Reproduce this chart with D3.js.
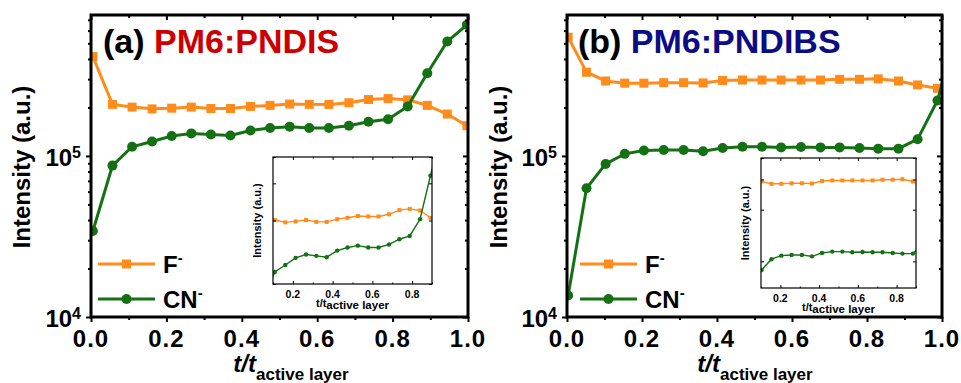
<!DOCTYPE html>
<html>
<head>
<meta charset="utf-8">
<script src="https://cdn.jsdelivr.net/npm/d3@7"></script>
<style>
  body { margin: 0; background: #fff; }
  text { font-family: "Liberation Sans", Arial, sans-serif; font-weight: bold; }
</style>
</head>
<body>
<div id="chart"></div>
<script>
// depth positions (t / t_active layer) and intensities
const tLeft  = [0.005, 0.057, 0.109, 0.162, 0.214, 0.266, 0.318, 0.370, 0.423, 0.475,
                0.527, 0.579, 0.631, 0.684, 0.736, 0.788, 0.840, 0.892, 0.945, 0.997];
const fLeft  = [4.14e5, 2.09e5, 2.01e5, 1.96e5, 1.98e5, 2.01e5, 1.97e5, 1.97e5, 2.03e5, 2.06e5,
                2.10e5, 2.09e5, 2.09e5, 2.14e5, 2.24e5, 2.27e5, 2.23e5, 2.06e5, 1.82e5, 1.54e5];
const cnLeft = [3.42e4, 8.71e4, 1.14e5, 1.23e5, 1.33e5, 1.38e5, 1.36e5, 1.34e5, 1.44e5, 1.49e5,
                1.52e5, 1.49e5, 1.49e5, 1.54e5, 1.63e5, 1.69e5, 2.03e5, 3.26e5, 5.13e5, 6.51e5];

const tRight  = [0.003, 0.052, 0.103, 0.154, 0.205, 0.258, 0.311, 0.363, 0.415, 0.468,
                 0.520, 0.571, 0.624, 0.676, 0.727, 0.780, 0.830, 0.884, 0.935, 0.988, 1.040];
const fRight  = [5.46e5, 3.31e5, 2.92e5, 2.83e5, 2.83e5, 2.85e5, 2.85e5, 2.84e5, 2.94e5, 2.96e5,
                 2.96e5, 2.96e5, 2.96e5, 2.96e5, 2.99e5, 2.99e5, 3.01e5, 2.92e5, 2.76e5, 2.63e5];
const cnRight = [1.36e4, 6.30e4, 8.92e4, 1.03e5, 1.08e5, 1.09e5, 1.09e5, 1.07e5, 1.12e5, 1.14e5,
                 1.14e5, 1.13e5, 1.135e5, 1.13e5, 1.13e5, 1.12e5, 1.11e5, 1.11e5, 1.27e5, 2.21e5, 6.0e5];

const xMajor = [0, 0.2, 0.4, 0.6, 0.8, 1.0];
const xMinor = [0.1, 0.3, 0.5, 0.7, 0.9];
const yMajor = [1e4, 1e5];
const yMinor = [2e4, 3e4, 4e4, 5e4, 6e4, 7e4, 8e4, 9e4, 2e5, 3e5, 4e5, 5e5, 6e5, 7e5];
const insetXMajor = [0.2, 0.4, 0.6, 0.8];
const insetXMinor = [0.1, 0.3, 0.5, 0.7, 0.9];
const insetYTicks = [1e5, 2e5, 3e5, 4e5];
const seriesNames = ["F", "CN"];

const width = 961, height = 383;
const orange = "#ff8c1a", green = "#137013";

const panels = [
  { id: "a", left: 91, right: 468, top: 15, bottom: 317,
    t: tLeft, f: fLeft, cn: cnLeft,
    tag: "(a)", name: "PM6:PNDIS", nameColor: "#cc0000", titleX: 103,
    legendX: 98, xLabelX: 291, yLabelX: 30,
    inset: { left: 273, right: 432, top: 157, bottom: 284, yDomain: [1e5, 4e5] } },
  { id: "b", left: 567, right: 942, top: 15, bottom: 317,
    t: tRight, f: fRight, cn: cnRight,
    tag: "(b)", name: "PM6:PNDIBS", nameColor: "#0c0c84", titleX: 578,
    legendX: 580, xLabelX: 755, yLabelX: 507,
    inset: { left: 761, right: 916, top: 158, bottom: 288, yDomain: [7e4, 4e5] } }
];

const svg = d3.select("#chart").append("svg")
  .attr("width", width).attr("height", height);

function tickGroup(sel, axis, tx, ty, sw) {
  sel.append("g")
    .attr("transform", `translate(${tx},${ty})`)
    .call(axis)
    .call(g => g.select(".domain").remove())
    .selectAll("line").attr("stroke", "#000").attr("stroke-width", sw);
}

function drawSeries(g, x, y, p, lw, sq, r) {
  const line = d3.line().x(d => x(d[0])).y(d => y(d[1]));
  const fData = d3.zip(p.t, p.f), cnData = d3.zip(p.t, p.cn);

  g.append("path").attr("d", line(fData))
    .attr("fill", "none").attr("stroke", orange).attr("stroke-width", lw);
  g.selectAll(".sq").data(fData).enter().append("rect")
    .attr("x", d => x(d[0]) - sq / 2).attr("y", d => y(d[1]) - sq / 2)
    .attr("width", sq).attr("height", sq).attr("fill", orange);

  g.append("path").attr("d", line(cnData))
    .attr("fill", "none").attr("stroke", green).attr("stroke-width", lw);
  g.selectAll(".dot").data(cnData).enter().append("circle")
    .attr("cx", d => x(d[0])).attr("cy", d => y(d[1]))
    .attr("r", r).attr("fill", green);
}

function drawPanel(p) {
  const x = d3.scaleLinear().domain([0, 1]).range([p.left, p.right]);
  const y = d3.scaleLog().domain([1e4, 7.5e5]).range([p.bottom, p.top]);

  svg.append("clipPath").attr("id", "clip-" + p.id)
    .append("rect")
    .attr("x", p.left).attr("y", p.top)
    .attr("width", p.right - p.left).attr("height", p.bottom - p.top);

  const plot = svg.append("g").attr("clip-path", `url(#clip-${p.id})`);
  drawSeries(plot, x, y, p, 3, 9, 5);

  // ticks: out on bottom/left, in on top/right
  tickGroup(svg, d3.axisBottom(x).tickValues(xMajor).tickSize(5).tickFormat(""), 0, p.bottom, 2);
  tickGroup(svg, d3.axisBottom(x).tickValues(xMinor).tickSize(3).tickFormat(""), 0, p.bottom, 2);
  tickGroup(svg, d3.axisTop(x).tickValues(xMajor).tickSize(-5).tickFormat(""), 0, p.top, 2);
  tickGroup(svg, d3.axisTop(x).tickValues(xMinor).tickSize(-3).tickFormat(""), 0, p.top, 2);
  tickGroup(svg, d3.axisLeft(y).tickValues(yMajor).tickSize(5).tickFormat(""), p.left, 0, 2);
  tickGroup(svg, d3.axisLeft(y).tickValues(yMinor).tickSize(3).tickFormat(""), p.left, 0, 2);
  tickGroup(svg, d3.axisRight(y).tickValues(yMajor).tickSize(-5).tickFormat(""), p.right, 0, 2);
  tickGroup(svg, d3.axisRight(y).tickValues(yMinor).tickSize(-3).tickFormat(""), p.right, 0, 2);

  svg.append("rect")
    .attr("x", p.left).attr("y", p.top)
    .attr("width", p.right - p.left).attr("height", p.bottom - p.top)
    .attr("fill", "none").attr("stroke", "#000").attr("stroke-width", 3);

  // tick labels
  svg.selectAll(null).data(xMajor).enter().append("text")
    .attr("x", d => x(d)).attr("y", p.bottom + 30)
    .attr("text-anchor", "middle").attr("font-size", 24).attr("letter-spacing", 1)
    .text(d => d.toFixed(1));

  const yl = svg.selectAll(null).data(yMajor).enter().append("text")
    .attr("x", p.left - 10).attr("y", d => y(d) + 10)
    .attr("text-anchor", "end").attr("font-size", 24);
  yl.append("tspan").text("10");
  yl.append("tspan").attr("dy", -8).attr("font-size", 16).text(d => Math.round(Math.log10(d)));

  // axis titles
  svg.append("text")
    .attr("transform", `translate(${p.yLabelX},${(p.top + p.bottom) / 2 + 1}) rotate(-90)`)
    .attr("text-anchor", "middle").attr("font-size", 24)
    .text("Intensity (a.u.)");

  const xl = svg.append("text")
    .attr("x", p.xLabelX).attr("y", 372)
    .attr("text-anchor", "middle");
  xl.append("tspan").attr("font-size", 24).attr("font-style", "italic").text("t/t");
  xl.append("tspan").attr("font-size", 17).attr("dy", 8).text("active layer");

  // panel title
  const tt = svg.append("text")
    .attr("x", p.titleX).attr("y", 53).attr("font-size", 34);
  tt.append("tspan").attr("fill", "#000").text(p.tag + " ");
  tt.append("tspan").attr("fill", p.nameColor).text(p.name);

  // legend
  const lg = svg.append("g");
  [orange, green].forEach((c, i) => {
    const ly = 264 + i * 35;
    lg.append("line")
      .attr("x1", p.legendX).attr("x2", p.legendX + 57)
      .attr("y1", ly).attr("y2", ly)
      .attr("stroke", c).attr("stroke-width", 3);
    if (i === 0) {
      lg.append("rect").attr("x", p.legendX + 24).attr("y", ly - 4.5)
        .attr("width", 9).attr("height", 9).attr("fill", c);
    } else {
      lg.append("circle").attr("cx", p.legendX + 28.5).attr("cy", ly)
        .attr("r", 5).attr("fill", c);
    }
    const lt = lg.append("text")
      .attr("x", p.legendX + 65).attr("y", ly + 8.5).attr("font-size", 24);
    lt.append("tspan").text(seriesNames[i]);
    lt.append("tspan").attr("dy", -10).attr("font-size", 15).text("-");
  });

  drawInset(p);
}

function drawInset(p) {
  const s = p.inset;
  const x = d3.scaleLinear().domain([0.1, 0.9]).range([s.left, s.right]);
  const y = d3.scaleLog().domain(s.yDomain).range([s.bottom, s.top]);

  svg.append("rect")
    .attr("x", s.left).attr("y", s.top)
    .attr("width", s.right - s.left).attr("height", s.bottom - s.top)
    .attr("fill", "#fff");

  svg.append("clipPath").attr("id", "clipi-" + p.id)
    .append("rect")
    .attr("x", s.left).attr("y", s.top)
    .attr("width", s.right - s.left).attr("height", s.bottom - s.top);

  const plot = svg.append("g").attr("clip-path", `url(#clipi-${p.id})`);
  drawSeries(plot, x, y, p, 1.4, 4, 2.2);

  // inset ticks, all pointing in
  tickGroup(svg, d3.axisBottom(x).tickValues(insetXMajor).tickSize(-3).tickFormat(""), 0, s.bottom, 1);
  tickGroup(svg, d3.axisBottom(x).tickValues(insetXMinor).tickSize(-1.5).tickFormat(""), 0, s.bottom, 1);
  tickGroup(svg, d3.axisTop(x).tickValues(insetXMajor).tickSize(-3).tickFormat(""), 0, s.top, 1);
  tickGroup(svg, d3.axisTop(x).tickValues(insetXMinor).tickSize(-1.5).tickFormat(""), 0, s.top, 1);
  tickGroup(svg, d3.axisLeft(y).tickValues(insetYTicks).tickSize(-3).tickFormat(""), s.left, 0, 1);
  tickGroup(svg, d3.axisRight(y).tickValues(insetYTicks).tickSize(-3).tickFormat(""), s.right, 0, 1);

  svg.append("rect")
    .attr("x", s.left).attr("y", s.top)
    .attr("width", s.right - s.left).attr("height", s.bottom - s.top)
    .attr("fill", "none").attr("stroke", "#000").attr("stroke-width", 1.2);

  svg.selectAll(null).data(insetXMajor).enter().append("text")
    .attr("x", d => x(d)).attr("y", s.bottom + 14)
    .attr("text-anchor", "middle").attr("font-size", 10.5)
    .text(d => d.toFixed(1));

  svg.append("text")
    .attr("transform", `translate(${s.left - 12},${(s.top + s.bottom) / 2}) rotate(-90)`)
    .attr("text-anchor", "middle").attr("font-size", 11)
    .text("Intensity (a.u.)");

  const xl = svg.append("text")
    .attr("x", (s.left + s.right) / 2).attr("y", s.bottom + 23)
    .attr("text-anchor", "middle");
  xl.append("tspan").attr("font-size", 11).text("t/t");
  xl.append("tspan").attr("font-size", 11.5).attr("dy", 2).text("active layer");
}

panels.forEach(drawPanel);
</script>
</body>
</html>
